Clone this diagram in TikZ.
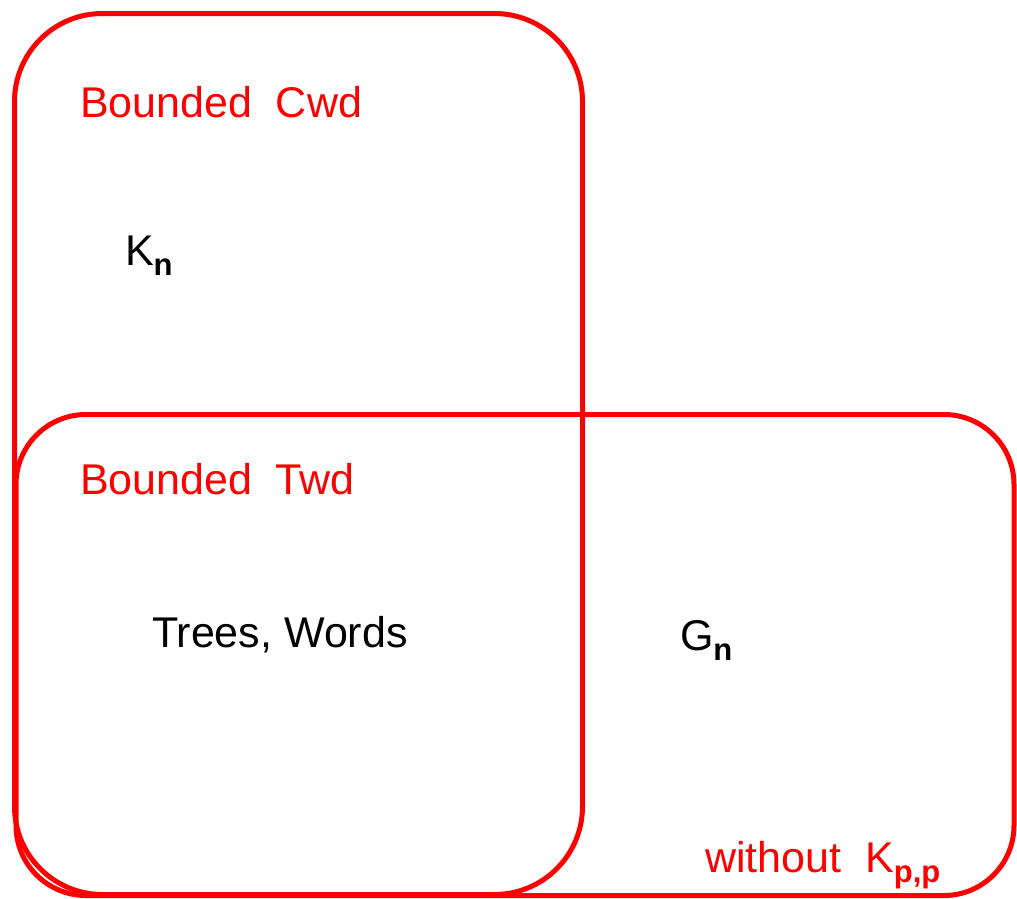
\documentclass[tikz,border=0pt]{standalone}
\usepackage{fontspec}
\setmainfont{Liberation Sans}
\definecolor{vred}{RGB}{255,0,0}
\newcommand{\subb}[1]{\raisebox{-10pt}{\fontsize{31}{31}\selectfont\bfseries #1}}
\begin{document}
\begin{tikzpicture}[x=1pt,y=-1pt,
  setbox/.style={draw=vred, line width=5pt, inner sep=0pt, outer sep=0pt},
  lbl/.style={anchor=base west, inner sep=0pt, outer sep=0pt, font=\fontsize{43}{50}\selectfont},
  redlbl/.style={lbl, text=vred}]
\useasboundingbox (0,0) rectangle (1017,898);
\node[setbox, rounded corners=88pt, minimum width=568pt, minimum height=881pt] (cwd) at (298.5,454) {};
\node[setbox, rounded corners=70pt, minimum width=998pt, minimum height=481pt] (twd) at (515,655) {};
\node[redlbl] (cwdlabel) at (80,117) {Bounded\ \ Cwd};
\node[redlbl] (twdlabel) at (80,494) {Bounded\ \ Twd};
\node[lbl] (kn) at (125,265) {K\subb{n}};
\node[lbl] (trees) at (152,647) {Trees, Words};
\node[lbl] (gn) at (680,650) {G\subb{n}};
\node[redlbl] (without) at (705,872) {without\ \ K\subb{p,p}};
\end{tikzpicture}
\end{document}
